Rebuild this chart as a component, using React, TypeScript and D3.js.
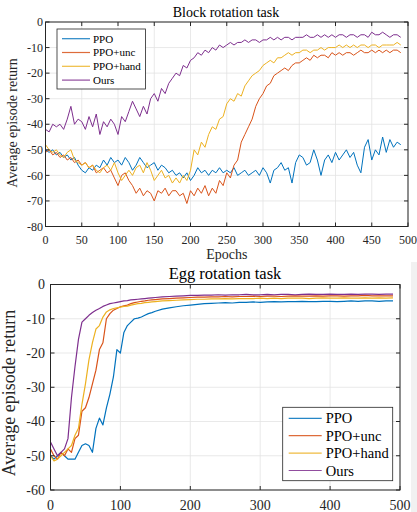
import React from "react";
import * as d3 from "d3";

const seriesNames = ["PPO", "PPO+unc", "PPO+hand", "Ours"];
const colors = ["#0072BD", "#D95319", "#EDB120", "#7E2F8E"];

// Block rotation task, one value every 5 epochs (0..490)
const blockEpochs = d3.range(0, 495, 5);
const blockPPO = [
  -50, -51, -50, -52, -51, -53, -52, -54, -53, -56, -58, -59, -57, -58, -56, -57, -54, -56, -53, -55,
  -54, -56, -53, -55, -58, -56, -53, -55, -57, -56, -55, -58, -56, -57, -59, -58, -60, -59, -61, -59,
  -62, -60, -57, -59, -58, -60, -58, -59, -57, -59, -58, -59, -57, -60, -59, -58, -60, -59, -58, -60,
  -57, -59, -63, -58, -57, -55, -58, -57, -63, -55, -52, -53, -56, -55, -50, -54, -60, -54, -52, -55,
  -51, -54, -52, -50, -53, -51, -56, -59, -49, -46, -54, -50, -52, -45, -51, -46, -49, -47, -48,
];
const blockUnc = [
  -51, -50, -52, -51, -53, -52, -54, -53, -55, -54, -56, -55, -57, -56, -59, -58, -57, -59, -58, -61,
  -64, -60, -59, -62, -64, -67, -65, -68, -66, -67, -70, -66, -67, -65, -68, -66, -66, -68, -67, -71,
  -66, -68, -65, -67, -64, -68, -65, -67, -62, -64, -59, -61, -56, -54, -47, -44, -41, -38, -33, -30,
  -28, -25, -24, -21, -20, -19, -18, -19, -17, -16, -16, -15, -14, -15, -13, -14, -13, -13, -14, -12,
  -13, -12, -13, -12, -12, -13, -12, -11, -12, -12, -11, -12, -11, -12, -11, -12, -11, -11, -12,
];
const blockHand = [
  -48, -50, -51, -50, -52, -53, -51, -50, -54, -55, -56, -55, -57, -56, -58, -59, -57, -56, -58, -55,
  -59, -62, -60, -58, -60, -57, -56, -59, -55, -58, -62, -60, -58, -61, -60, -63, -61, -63, -60, -62,
  -58, -50, -52, -47, -49, -44, -41, -42, -38, -37, -32, -30, -31, -28, -29, -25, -23, -21, -20, -19,
  -17, -16, -15, -16, -14, -14, -13, -12, -13, -12, -12, -11, -11, -12, -11, -11, -10, -11, -10, -10,
  -10, -9, -10, -9, -10, -9, -10, -9, -9, -10, -9, -9, -10, -9, -9, -9, -9, -8, -9,
];
const blockOurs = [
  -42, -43, -40, -41, -40, -42, -38, -33, -40, -38, -39, -42, -37, -41, -36, -44, -39, -41, -38, -40,
  -44, -37, -39, -35, -31, -34, -37, -33, -36, -30, -28, -31, -26, -28, -24, -22, -20, -21, -17, -18,
  -15, -14, -12, -13, -11, -12, -10, -11, -9, -10, -9, -8, -9, -8, -8, -7, -8, -7, -7, -8,
  -7, -7, -6, -7, -6, -7, -6, -6, -7, -6, -6, -6, -5, -6, -6, -5, -6, -5, -6, -5,
  -6, -5, -5, -6, -5, -5, -6, -5, -5, -6, -4, -5, -5, -4, -5, -6, -5, -5, -6,
];

// Egg rotation task, every 5 epochs up to 145, then every 10
const eggEpochs = d3.range(0, 150, 5).concat(d3.range(150, 495, 10));
const eggPPO = [
  -50, -51, -50, -49, -50, -51, -51, -51, -49, -47, -46.5, -47, -49, -42, -39, -41, -36, -32, -27, -19,
  -20, -14, -12, -11, -10, -9.8, -9.5, -9, -8.5, -8.2,
  -7.8, -7.2, -6.8, -6.5, -6.2, -6, -5.8, -5.6, -5.5, -5.4, -5.3, -5.4, -5.2, -5.2, -5.1, -5.2, -5.1, -5,
  -5.1, -5, -5, -4.9, -5, -5, -4.9, -4.9, -5, -4.9, -4.8, -4.9, -4.8, -4.8, -4.9, -4.8, -4.8,
];
const eggUnc = [
  -48, -50, -51, -49, -50, -48, -49, -45, -44, -37, -36, -33, -29, -25, -19, -17, -10, -8.5, -7.5, -7,
  -6.5, -6.2, -6, -5.6, -5.3, -5.1, -4.9, -4.8, -4.6, -4.5,
  -4.4, -4.2, -4.1, -4, -3.9, -3.8, -3.7, -3.7, -3.6, -3.6, -3.5, -3.6, -3.5, -3.5, -3.4, -3.5, -3.4, -3.4,
  -3.5, -3.4, -3.3, -3.4, -3.4, -3.3, -3.4, -3.3, -3.3, -3.4, -3.3, -3.3, -3.2, -3.3, -3.3, -3.3, -3.3,
];
const eggHand = [
  -50, -51.5, -51, -50, -49, -48, -47, -44, -42, -35, -29, -22, -17, -13, -12, -9.5, -8, -7.4, -7, -6.8,
  -6.6, -6.4, -6.3, -6, -5.8, -5.6, -5.5, -5.3, -5.2, -5.1,
  -5, -4.8, -4.7, -4.6, -4.5, -4.4, -4.3, -4.3, -4.2, -4.2, -4.1, -4.2, -4.1, -4.1, -4.1, -4, -4.1, -4,
  -4.1, -4, -4, -4, -4.1, -4, -3.9, -4, -4, -3.9, -4, -4, -3.9, -4, -3.9, -4, -3.9,
];
const eggOurs = [
  -46, -48, -50, -49, -48, -45, -33, -24, -16, -11, -10, -9, -8.2, -7.5, -7, -6.4, -6, -5.6, -5.4, -5.2,
  -5, -4.8, -4.7, -4.5, -4.4, -4.3, -4.2, -4.1, -4, -3.9,
  -3.8, -3.6, -3.5, -3.4, -3.3, -3.2, -3.2, -3.1, -3.1, -3, -3.1, -3, -3, -2.9, -3, -3, -2.9, -3,
  -2.9, -2.9, -3, -2.9, -2.8, -2.9, -2.9, -2.8, -2.9, -2.9, -2.8, -2.9, -2.8, -2.8, -2.9, -2.8, -2.8,
];

const blockTicksX = d3.range(0, 550, 50);
const blockTicksY = d3.range(-80, 10, 10);
const eggTicksX = d3.range(0, 600, 100);
const eggTicksY = d3.range(-60, 10, 10);

const serif = "'Liberation Serif', 'Times New Roman', serif";
const axisColor = "#262626";
const gridColor = "#e3e3e3";

const Panel = ({ cfg }) => {
  const { epochs, series, xr, yr, xDomain, yDomain, xTicks, yTicks } = cfg;
  const x = d3.scaleLinear().domain(xDomain).range(xr);
  const y = d3.scaleLinear().domain(yDomain).range(yr);
  const line = d3.line().x((d, i) => x(epochs[i])).y(d => y(d));
  const tl = 4;

  return (
    <g>
      {/* grid */}
      {xTicks.map(t => (
        <line key={"gx" + t} x1={x(t)} x2={x(t)} y1={yr[0]} y2={yr[1]} stroke={gridColor} strokeWidth={0.8} />
      ))}
      {yTicks.map(t => (
        <line key={"gy" + t} x1={xr[0]} x2={xr[1]} y1={y(t)} y2={y(t)} stroke={gridColor} strokeWidth={0.8} />
      ))}

      {/* series, PPO drawn first like in the source */}
      {series.map((s, i) => (
        <path key={i} d={line(s)} fill="none" stroke={colors[i]} strokeWidth={cfg.lineWidth} strokeLinejoin="round" />
      ))}

      {/* box + inward ticks */}
      <rect x={xr[0]} y={yr[1]} width={xr[1] - xr[0]} height={yr[0] - yr[1]} fill="none" stroke={axisColor} strokeWidth={1} />
      {xTicks.map(t => (
        <g key={"tx" + t}>
          <line x1={x(t)} x2={x(t)} y1={yr[0]} y2={yr[0] - tl} stroke={axisColor} />
          <line x1={x(t)} x2={x(t)} y1={yr[1]} y2={yr[1] + tl} stroke={axisColor} />
          <text x={x(t)} y={cfg.xLabelY} textAnchor="middle" style={{ fontSize: cfg.tickSize, fontFamily: serif, fill: axisColor }}>
            {t}
          </text>
        </g>
      ))}
      {yTicks.map(t => (
        <g key={"ty" + t}>
          <line x1={xr[0]} x2={xr[0] + tl} y1={y(t)} y2={y(t)} stroke={axisColor} />
          <line x1={xr[1]} x2={xr[1] - tl} y1={y(t)} y2={y(t)} stroke={axisColor} />
          <text x={cfg.yLabelX} y={y(t)} dy="0.35em" textAnchor="end" style={{ fontSize: cfg.tickSize, fontFamily: serif, fill: axisColor }}>
            {t}
          </text>
        </g>
      ))}

      {/* title and axis labels */}
      <text x={cfg.titleX} y={cfg.titleY} textAnchor="middle" style={{ fontSize: cfg.titleSize, fontFamily: serif, fill: "#000" }}>
        {cfg.title}
      </text>
      {cfg.xTitle && (
        <text x={(xr[0] + xr[1]) / 2} y={cfg.xTitleY} textAnchor="middle" style={{ fontSize: 14, fontFamily: serif, fill: axisColor }}>
          {cfg.xTitle}
        </text>
      )}
      <text
        transform={`translate(${cfg.yTitleX},${cfg.yTitleCy}) rotate(-90)`}
        textAnchor="middle"
        style={{ fontSize: cfg.yTitleSize, fontFamily: serif, fill: axisColor }}
      >
        Average episode return
      </text>

      {/* legend */}
      <rect x={cfg.legend.x} y={cfg.legend.y} width={cfg.legend.w} height={cfg.legend.h} fill="#fff" stroke={axisColor} strokeWidth={0.8} />
      {seriesNames.map((n, i) => {
        const ly = cfg.legend.y + cfg.legend.first + i * cfg.legend.step;
        return (
          <g key={n}>
            <line x1={cfg.legend.x + cfg.legend.l0} x2={cfg.legend.x + cfg.legend.l1} y1={ly} y2={ly} stroke={colors[i]} strokeWidth={1.2} opacity={0.85} />
            <text x={cfg.legend.x + cfg.legend.tx} y={ly} dy="0.35em" style={{ fontSize: cfg.legend.size, fontFamily: serif, fill: "#000" }}>
              {n}
            </text>
          </g>
        );
      })}
    </g>
  );
};

const blockCfg = {
  title: "Block rotation task",
  titleX: 226,
  titleY: 17,
  titleSize: 14,
  epochs: blockEpochs,
  series: [blockPPO, blockUnc, blockHand, blockOurs],
  xDomain: [0, 500],
  yDomain: [-80, 0],
  xr: [45.5, 408],
  yr: [226.5, 22],
  xTicks: blockTicksX,
  yTicks: blockTicksY,
  tickSize: 12,
  xLabelY: 244,
  yLabelX: 43,
  xTitle: "Epochs",
  xTitleY: 259,
  yTitleX: 17,
  yTitleCy: 123,
  yTitleSize: 14,
  lineWidth: 1,
  legend: { x: 57, y: 29, w: 88.5, h: 60, first: 9.7, step: 13.8, l0: 5, l1: 33, tx: 36, size: 11 },
};

const eggCfg = {
  title: "Egg rotation task",
  titleX: 225,
  titleY: 279,
  titleSize: 16.5,
  epochs: eggEpochs,
  series: [eggPPO, eggUnc, eggHand, eggOurs],
  xDomain: [0, 500],
  yDomain: [-60, 0],
  xr: [50.5, 400],
  yr: [490, 284.5],
  xTicks: eggTicksX,
  yTicks: eggTicksY,
  tickSize: 14,
  xLabelY: 510,
  yLabelX: 45,
  xTitle: null,
  yTitleX: 15,
  yTitleCy: 393,
  yTitleSize: 18,
  lineWidth: 1.2,
  legend: { x: 282.7, y: 407.3, w: 110, h: 73.4, first: 11, step: 17.4, l0: 6, l1: 39, tx: 43, size: 14.5 },
};

export default function App() {
  return (
    <svg width={417} height={512} viewBox="0 0 417 512" style={{ position: "absolute", left: 0, top: 0, background: "#fff" }}>
      <rect x={0} y={0} width={417} height={512} fill="#fff" />
      {/* faint page edge visible at the right of the lower figure */}
      <rect x={411} y={262} width={6} height={250} fill="#f1f1f1" />
      <Panel cfg={blockCfg} />
      <Panel cfg={eggCfg} />
    </svg>
  );
}
